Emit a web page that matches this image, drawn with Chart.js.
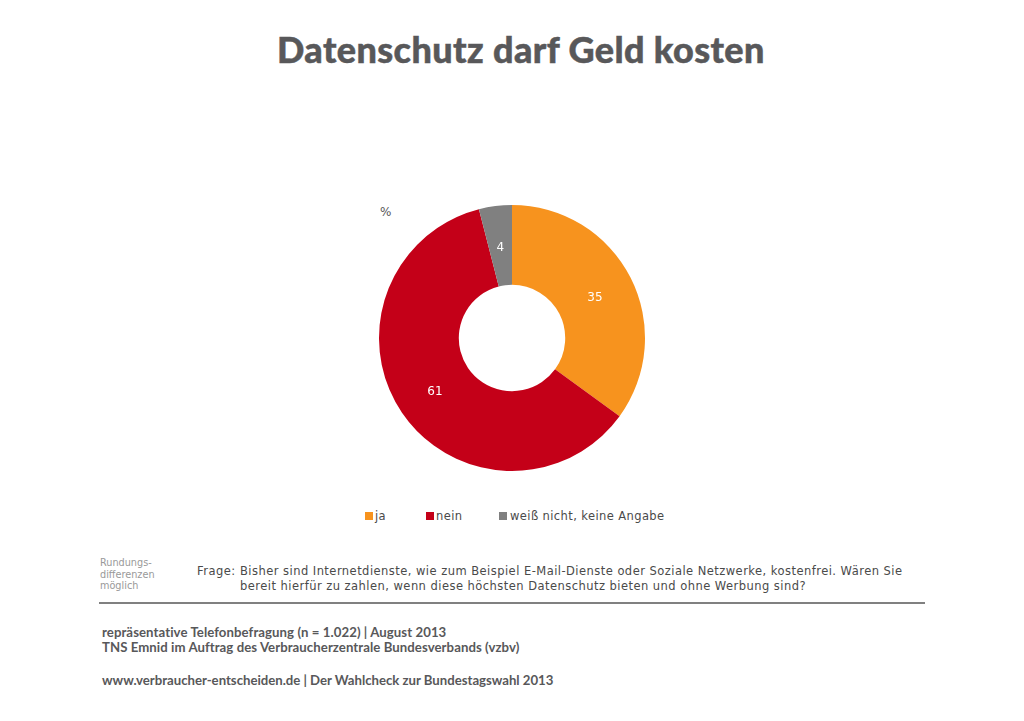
<!DOCTYPE html>
<html lang="de">
<head>
<meta charset="utf-8">
<title>Datenschutz darf Geld kosten</title>
<script src="https://cdn.jsdelivr.net/npm/chart.js@4"></script>
<style>
  html, body { margin: 0; padding: 0; background: #fff; }
  #page { position: relative; width: 1024px; height: 721px; overflow: hidden; }
  #page div { position: absolute; white-space: nowrap; }
  #wrap { left: 372px; top: 198px; width: 280px; height: 280px; }
  #title { left: 277px; top: 27px; font: 900 36px Lato, sans-serif; letter-spacing: .4px; -webkit-text-stroke: .5px #58585a; color: #58585a; }
  #unit { left: 380px; top: 205px; font: 12px "DejaVu Sans", sans-serif; color: #58585a; }
  .legend-box { width: 8px; height: 8px; top: 512px; }
  .legend-text { top: 509px; font: 11.5px "DejaVu Sans", sans-serif; color: #4a4a4a; letter-spacing: .4px; }
  #note { left: 100px; top: 557px; font: 9.7px/11.5px "DejaVu Sans", sans-serif; color: #999; }
  #frageLabel { left: 197px; top: 564px; font: 11.5px/15px "DejaVu Sans", sans-serif; color: #4a4a4a; letter-spacing: .46px; }
  #frage { left: 240px; top: 564px; font: 11.5px/15px "DejaVu Sans", sans-serif; color: #4a4a4a; letter-spacing: .46px; }
  #rule { left: 99px; top: 602px; width: 826px; height: 2px; background: #808080; }
  .source { left: 102px; font: 700 13.2px Lato, sans-serif; color: #58585a; }
</style>
</head>
<body>
<div id="page">
  <div id="title">Datenschutz darf Geld kosten</div>
  <div id="unit">%</div>
  <div id="wrap"><canvas id="donut" width="280" height="280"></canvas></div>
  <div id="note">Rundungs-<br>differenzen<br>möglich</div>
  <div id="frageLabel">Frage:</div>
  <div id="frage">Bisher sind Internetdienste, wie zum Beispiel E-Mail-Dienste oder Soziale Netzwerke, kostenfrei. Wären Sie<br>bereit hierfür zu zahlen, wenn diese höchsten Datenschutz bieten und ohne Werbung sind?</div>
  <div id="rule"></div>
  <div class="source" style="top:624px;letter-spacing:.07px">repräsentative Telefonbefragung (n = 1.022) | August 2013</div>
  <div class="source" style="top:639px;letter-spacing:.06px">TNS Emnid im Auftrag des Verbraucherzentrale Bundesverbands (vzbv)</div>
  <div class="source" style="top:672px;letter-spacing:-.015px">www.verbraucher-entscheiden.de | Der Wahlcheck zur Bundestagswahl 2013</div>
</div>
<script>
const categories = ['ja', 'nein', 'weiß nicht, keine Angabe'];
const shares = [35, 61, 4];
const sliceColors = ['#f7931e', '#c40018', '#808080'];
const legendBoxX = [365, 426, 499];
const legendTextX = [375, 436, 510];

// legend is plain html so the uneven gaps of the original can be kept
const page = document.getElementById('page');
categories.forEach((name, i) => {
  const box = document.createElement('div');
  box.className = 'legend-box';
  box.style.left = legendBoxX[i] + 'px';
  box.style.background = sliceColors[i];
  page.appendChild(box);
  const label = document.createElement('div');
  label.className = 'legend-text';
  label.style.left = legendTextX[i] + 'px';
  label.textContent = name;
  page.appendChild(label);
});

const sliceLabels = {
  id: 'sliceLabels',
  afterDatasetsDraw(chart) {
    const ctx = chart.ctx;
    ctx.save();
    ctx.font = '12px "DejaVu Sans", sans-serif';
    ctx.fillStyle = '#fff';
    ctx.textAlign = 'center';
    ctx.textBaseline = 'middle';
    chart.getDatasetMeta(0).data.forEach((arc, i) => {
      const p = arc.getCenterPoint();
      // labels sit a little under the arc centre in the original
      ctx.fillText(String(shares[i]), p.x, p.y + 2);
    });
    ctx.restore();
  }
};

new Chart(document.getElementById('donut'), {
  type: 'doughnut',
  data: {
    labels: categories,
    datasets: [{ data: shares, backgroundColor: sliceColors, borderWidth: 0 }]
  },
  options: {
    responsive: false,
    animation: false,
    cutout: '40%',
    layout: { padding: 7 },
    plugins: { legend: { display: false }, tooltip: { enabled: false } }
  },
  plugins: [sliceLabels]
});
</script>
</body>
</html>
